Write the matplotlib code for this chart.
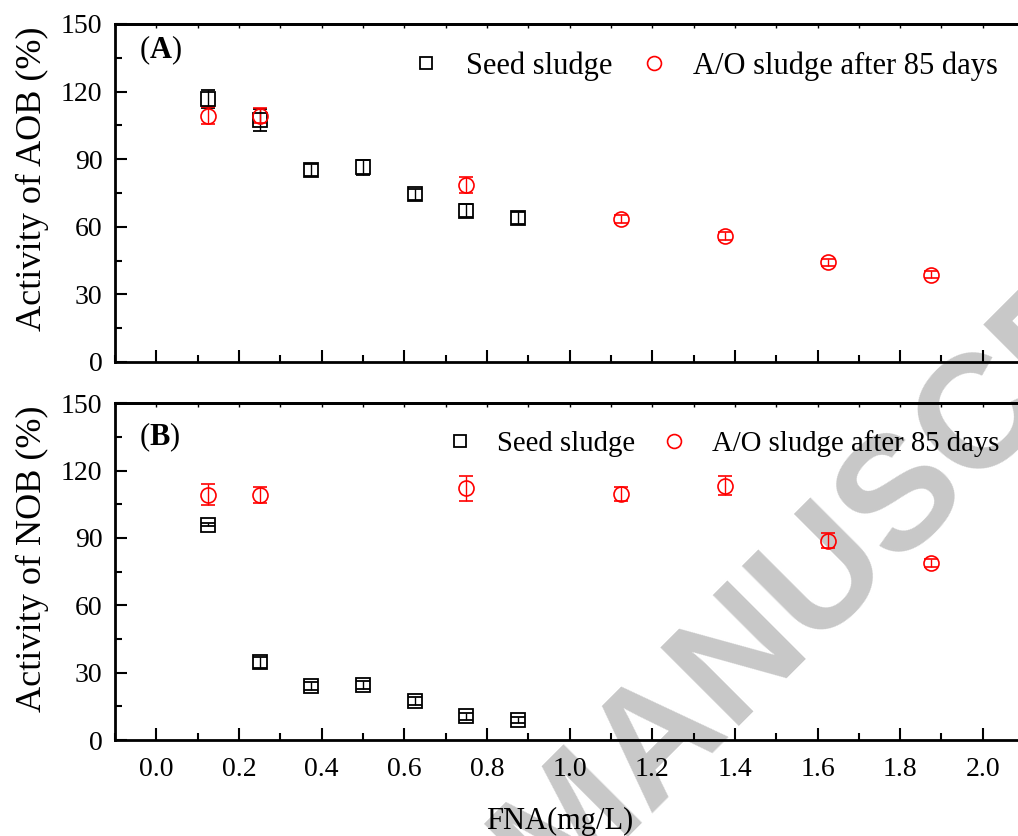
import matplotlib
matplotlib.use('Agg')
import matplotlib.pyplot as plt
from matplotlib.lines import Line2D
from matplotlib.ticker import MultipleLocator

plt.rcParams['font.family'] = 'Liberation Serif'
plt.rcParams['mathtext.fontset'] = 'custom'
plt.rcParams['mathtext.rm'] = 'Liberation Serif'
plt.rcParams['mathtext.bf'] = 'Liberation Serif:bold'

# FNA concentrations (mg/L)
seed_x = [0.125, 0.25, 0.375, 0.5, 0.625, 0.75, 0.875]
ao_x = [0.125, 0.25, 0.75, 1.125, 1.375, 1.625, 1.875]

# (A) AOB activity (%)
aob_seed = [116.7, 107.4, 85.1, 86.4, 74.4, 67.2, 63.8]
aob_seed_err = [4.0, 4.8, 2.7, 3.3, 2.4, 2.9, 2.6]
aob_ao = [109.3, 109.3, 78.6, 63.5, 55.9, 44.2, 38.8]
aob_ao_err = [3.9, 3.4, 3.7, 1.7, 1.7, 1.7, 1.7]

# (B) NOB activity (%)
nob_seed = [95.9, 34.6, 24.1, 24.5, 17.4, 10.5, 8.9]
nob_seed_err = [0.8, 2.5, 1.7, 1.7, 1.7, 1.5, 1.5]
nob_ao = [109.3, 109.2, 112.0, 109.6, 113.2, 88.7, 79.0]
nob_ao_err = [4.5, 3.6, 5.5, 3.0, 4.2, 3.3, 1.8]

labels = ['Seed sludge', 'A/O sludge after 85 days']

fig = plt.figure(figsize=(10.18, 8.36), dpi=100)
axA = fig.add_axes([0.113, 0.567, 0.893, 0.4043], facecolor='none')
axB = fig.add_axes([0.113, 0.1148, 0.893, 0.403], facecolor='none')

# watermark behind the axes
fig.text(0.886, 0.41, 'MANUSCRIPT', rotation=45, rotation_mode='anchor',
         ha='center', va='center', fontsize=116, color='#c8c8c8',
         family='Liberation Sans', weight='bold', zorder=-1)


def draw(ax, ys, ys_err, ya, ya_err):
    ax.errorbar(seed_x, ys, yerr=ys_err, fmt='s', ms=9.4, mfc='none', mec='k',
                mew=1.3, ecolor='k', elinewidth=1, capsize=4.7, capthick=1)
    ax.errorbar(ao_x, ya, yerr=ya_err, fmt='o', ms=10.8, mfc='none', mec='r',
                mew=1.2, ecolor='r', elinewidth=1, capsize=5, capthick=1)


def style(ax, ylabel, tag, label_y, leg_xy, leg_size, bottom_labels):
    ax.set_xlim(-0.1, 2.1)
    ax.set_ylim(0, 150)
    ax.xaxis.set_major_locator(MultipleLocator(0.2))
    ax.xaxis.set_minor_locator(MultipleLocator(0.1))
    ax.yaxis.set_major_locator(MultipleLocator(30))
    ax.yaxis.set_minor_locator(MultipleLocator(15))
    ax.tick_params(which='both', direction='in', width=1.5)
    ax.tick_params(which='major', length=8.6, labelsize=20, pad=9)
    ax.tick_params(axis='x', which='major', pad=12)
    ax.tick_params(which='minor', length=5)
    ax.tick_params(axis='x', labelbottom=bottom_labels)
    for s in ax.spines.values():
        s.set_linewidth(2)

    top = ax.secondary_xaxis('top')
    top.xaxis.set_major_locator(MultipleLocator(0.2))
    top.xaxis.set_minor_locator(MultipleLocator(0.1))
    top.tick_params(which='both', direction='in', length=3, width=1, labeltop=False)
    top.spines['top'].set_linewidth(2)

    ax.set_ylabel(ylabel, fontsize=26)
    ax.yaxis.set_label_coords(-0.073, label_y)
    ax.text(0.0264, 0.923 if tag == 'A' else 0.9, r'($\mathbf{' + tag + '}$)',
            transform=ax.transAxes, fontsize=22, ha='left', va='center')

    handles = [Line2D([], [], ls='none', marker='s', ms=9, mfc='none', mec='k', mew=1.3),
               Line2D([], [], ls='none', marker='o', ms=10, mfc='none', mec='r', mew=1.2)]
    ax.legend(handles, labels, ncol=2, loc='center right', bbox_to_anchor=leg_xy,
              frameon=False, fontsize=leg_size, handlelength=1.0, handletextpad=0.8,
              columnspacing=0.85, borderpad=0, borderaxespad=0)


draw(axA, aob_seed, aob_seed_err, aob_ao, aob_ao_err)
draw(axB, nob_seed, nob_seed_err, nob_ao, nob_ao_err)

style(axA, 'Activity of AOB (%)', 'A', 0.541, (0.9714, 0.876), 22, False)
style(axB, 'Activity of NOB (%)', 'B', 0.538, (0.9725, 0.880), 20.7, True)

axB.set_xlabel('FNA(mg/L)', fontsize=22)
axB.xaxis.set_label_coords(0.4895, -0.2)

fig.savefig('out.png', dpi=100)
